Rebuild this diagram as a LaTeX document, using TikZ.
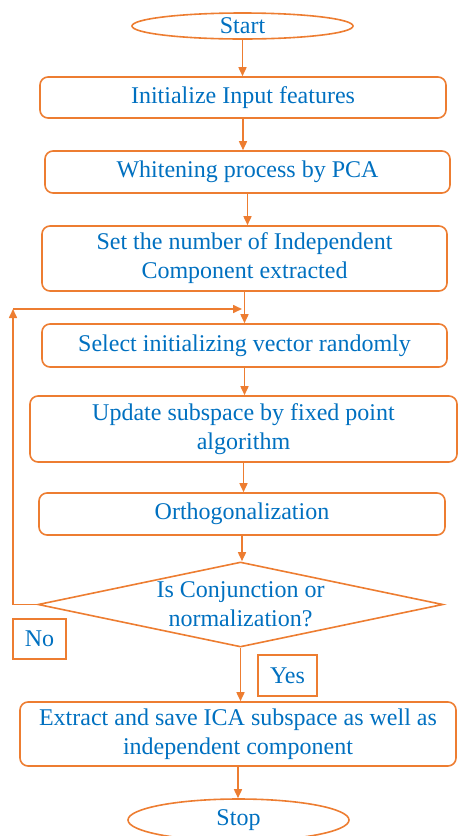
\documentclass[tikz,border=0pt]{standalone}
\usepackage{fontspec}
\setmainfont{Liberation Serif}
\usetikzlibrary{arrows.meta,%
                shapes.geometric,%
                positioning}
\definecolor{boxorange}{RGB}{237,125,49}
\definecolor{textblue}{RGB}{0,112,192}

\begin{document}
\begin{tikzpicture}[x=0.5pt,y=-0.5pt,style=thick]
\tikzstyle{every node}=[font=\fontsize{12}{14.5}\selectfont,text=textblue]
\tikzstyle{terminal}=[draw=boxorange,line width=0.8pt,shape=ellipse,inner sep=0pt,minimum width=110.5pt]
\tikzstyle{process}=[draw=boxorange,line width=0.8pt,rounded corners=4pt,align=center,inner sep=0pt]
\tikzstyle{decision}=[draw=boxorange,line width=0.8pt,shape=diamond,shape aspect=4.76,align=center,inner sep=0pt,minimum width=202.5pt,minimum height=42.5pt]
\tikzstyle{answer}=[draw=boxorange,line width=0.8pt,inner sep=0pt]
\tikzstyle{flow}=[draw=boxorange,line width=0.8pt,-{Triangle[length=4.5pt,width=4pt]}]

\useasboundingbox (0,0) rectangle (457,836);

\draw (242.5,26) node[terminal,minimum height=13pt] (start) {Start};
\draw (243,97.5) node[process,minimum width=203pt,minimum height=20.5pt] (init) {Initialize Input features};
\draw (247.5,172) node[process,minimum width=202.5pt,minimum height=21pt] (whiten) {Whitening process by PCA};
\draw (244.5,258.5) node[process,minimum width=202.5pt,minimum height=32.5pt] (setnum) {Set the number of Independent\\Component extracted};
\draw (244.5,345.5) node[process,minimum width=202.5pt,minimum height=21.5pt] (select) {Select initializing vector randomly};
\draw (243.5,429) node[process,minimum width=213.5pt,minimum height=33pt] (update) {Update subspace by fixed point\\algorithm};
\draw (242,514) node[process,minimum width=203pt,minimum height=21pt] (ortho) {Orthogonalization};
\draw (240.5,604.5) node[decision] (check) {Is Conjunction or\\normalization?};
\draw (39.5,639) node[answer,minimum width=26.5pt,minimum height=20pt] (no) {No};
\draw (287.5,675.5) node[answer,minimum width=29.5pt,minimum height=20.5pt] (yes) {Yes};
\draw (238,734) node[process,minimum width=218pt,minimum height=32pt] (extract) {Extract and save ICA subspace as well as\\independent component};
\draw (238.5,820) node[terminal,minimum height=21pt] (stop) {Stop};

\coordinate (loopup) at (13,309);
\coordinate (loopin) at (242,309);

\path[flow] (start) -- (start |- init.north);
\path[flow] (init) -- (init |- whiten.north);
\path[flow] (whiten) -- (whiten |- setnum.north);
\path[flow] (setnum) -- (setnum |- select.north);
\path[flow] (select) -- (select |- update.north);
\path[flow] (update) -- (update |- ortho.north);
\path[flow] (ortho) -- (ortho |- check.north);
\path[flow] (check) -- (check |- extract.north);
\path[flow] (extract) -- (extract |- stop.north);
\path[flow] (check.west) -- (check.west -| loopup) -- (loopup);
\path[flow] (loopup) -- (loopin);
\end{tikzpicture}
\end{document}
